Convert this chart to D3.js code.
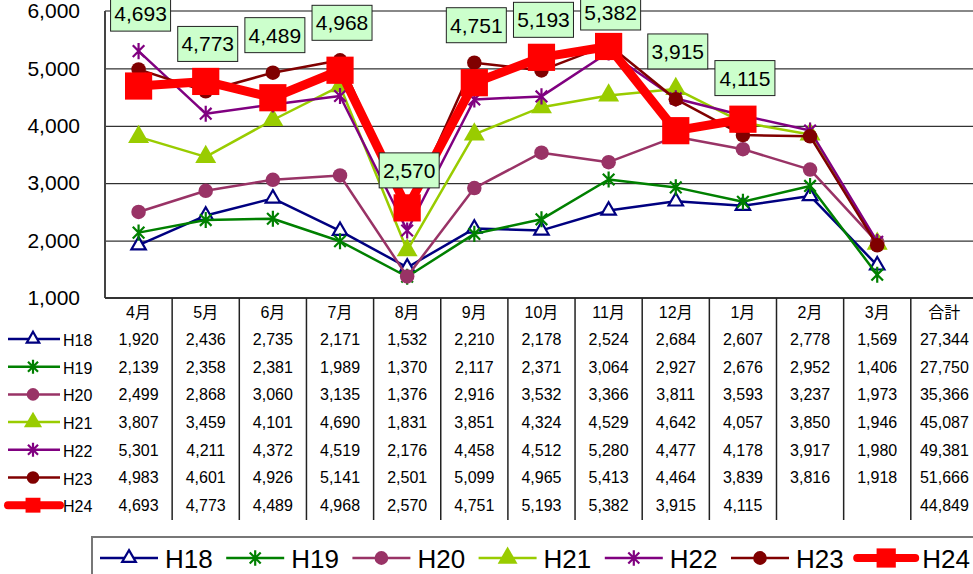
<!DOCTYPE html>
<html>
<head>
<meta charset="utf-8">
<script src="https://cdn.jsdelivr.net/npm/d3@7"></script>
<style>
body { margin: 0; background: #fff; }
text { font-family: "Liberation Sans", Arial, "Noto Sans CJK JP", sans-serif; fill: #000; }
</style>
</head>
<body>
<svg width="973" height="574"></svg>
<script>
// ### Data ###
var months = ['4月', '5月', '6月', '7月', '8月', '9月', '10月', '11月', '12月', '1月', '2月', '3月'];
var totalHead = '合計';
var names = ['H18', 'H19', 'H20', 'H21', 'H22', 'H23', 'H24'];
var h18 = [1920, 2436, 2735, 2171, 1532, 2210, 2178, 2524, 2684, 2607, 2778, 1569];
var h19 = [2139, 2358, 2381, 1989, 1370, 2117, 2371, 3064, 2927, 2676, 2952, 1406];
var h20 = [2499, 2868, 3060, 3135, 1376, 2916, 3532, 3366, 3811, 3593, 3237, 1973];
var h21 = [3807, 3459, 4101, 4690, 1831, 3851, 4324, 4529, 4642, 4057, 3850, 1946];
var h22 = [5301, 4211, 4372, 4519, 2176, 4458, 4512, 5280, 4477, 4178, 3917, 1980];
var h23 = [4983, 4601, 4926, 5141, 2501, 5099, 4965, 5413, 4464, 3839, 3816, 1918];
var h24 = [4693, 4773, 4489, 4968, 2570, 4751, 5193, 5382, 3915, 4115];
var totals = [27344, 27750, 35366, 45087, 49381, 51666, 44849];
var yTicks = [1000, 2000, 3000, 4000, 5000, 6000];

var series = [h18, h19, h20, h21, h22, h23, h24];

// ### Styles ###
var colors = ['#000080', '#008000', '#993366', '#99cc00', '#800080', '#800000', '#ff0000'];
var lineW = [2.5, 2.5, 2.5, 2.5, 2.5, 2.5, 9];

// excel style star marker: vertical bar + X
var star = {
	draw: function(c, s) {
		var r = Math.sqrt(s) / 2, d = r * 0.72;
		c.moveTo(0, -r); c.lineTo(0, r);
		c.moveTo(-d, -d); c.lineTo(d, d);
		c.moveTo(-d, d); c.lineTo(d, -d);
	}
};
// type, size, filled?
var markers = [
	{type: d3.symbolTriangle, size: 90, fill: false},
	{type: star, size: 260, fill: false},
	{type: d3.symbolCircle, size: 165, fill: true},
	{type: d3.symbolTriangle, size: 190, fill: true},
	{type: star, size: 260, fill: false},
	{type: d3.symbolCircle, size: 165, fill: true},
	{type: d3.symbolSquare, size: 740, fill: true}
];

var svg = d3.select('svg');
var fmt = d3.format(',');

// ### Scales ###
var plotL = 105, plotT = 11, plotB = 298, band = 67.15;
var x = d3.scaleBand()
	.domain(months.concat([totalHead]))
	.range([plotL, plotL + band * 13]);
var y = d3.scaleLinear()
	.domain([1000, 6000])
	.range([plotB, plotT]);
var cx = m => x(m) + x.bandwidth() / 2;

function drawMarker(g, i, px, py, k) {
	var mk = markers[i];
	g.append('path')
		.attr('transform', `translate(${px},${py})`)
		.attr('d', d3.symbol().type(mk.type).size(mk.size * k)())
		.attr('fill', mk.fill ? colors[i] : (mk.type === star ? 'none' : '#fff'))
		.attr('stroke', colors[i])
		.attr('stroke-width', mk.fill ? 0 : 2.2);
}

// ### Gridlines + frame ###
svg.append('g')
	.attr('transform', `translate(${plotL},0)`)
	.call(d3.axisLeft(y).tickValues([2000, 3000, 4000, 5000]).tickSize(-(973 - plotL)).tickFormat(''))
	.call(g => g.select('.domain').remove())
	.selectAll('line').attr('stroke', '#000').attr('stroke-width', 1);

svg.append('line').attr('x1', plotL).attr('x2', 973).attr('y1', plotT).attr('y2', plotT)
	.attr('stroke', '#888').attr('stroke-width', 2);
svg.append('line').attr('x1', plotL).attr('x2', plotL).attr('y1', plotT).attr('y2', plotB)
	.attr('stroke', '#444').attr('stroke-width', 2);
svg.append('line').attr('x1', plotL).attr('x2', 973).attr('y1', plotB).attr('y2', plotB)
	.attr('stroke', '#333').attr('stroke-width', 2);

// y axis labels
svg.append('g')
	.attr('transform', `translate(${plotL},0)`)
	.call(d3.axisLeft(y).tickValues(yTicks).tickSize(0).tickPadding(25).tickFormat(fmt))
	.call(g => g.select('.domain').remove())
	.selectAll('text')
	.style('font-size', '21px')
	.style('font-family', '"Liberation Sans", Arial, sans-serif')
	.attr('fill', '#000');

// ### Lines + markers ###
var line = d3.line()
	.x((d, i) => cx(months[i]))
	.y(d => y(d));

series.forEach(function(s, i) {
	var g = svg.append('g');
	g.append('path')
		.datum(s)
		.attr('d', line)
		.attr('fill', 'none')
		.attr('stroke', colors[i])
		.attr('stroke-width', lineW[i])
		.attr('stroke-linejoin', 'round');
	s.forEach(function(v, j) {
		drawMarker(g, i, cx(months[j]), y(v), 1);
	});
});

// ### H24 value labels ###
// placed above the highest point of the month, kept inside the picture
h24.forEach(function(v, j) {
	var hi = d3.max(series, s => s[j]);
	var b = Math.max(y(hi) - 20, 30);
	var g = svg.append('g').attr('transform', `translate(${cx(months[j]) + 2},${b})`);
	g.append('rect')
		.attr('x', -30).attr('y', -35).attr('width', 60).attr('height', 35)
		.attr('fill', '#ccffcc').attr('stroke', '#222').attr('stroke-width', 1);
	g.append('text')
		.attr('text-anchor', 'middle')
		.attr('y', -10)
		.style('font-size', '21px')
		.text(fmt(v));
});

// ### Data table ###
var rowY = d3.scalePoint().domain(names).range([339, 505.2]);
var tableBottom = 520;

x.domain().forEach(function(m, k) {
	svg.append('text')
		.attr('x', cx(m)).attr('y', 317.5)
		.attr('text-anchor', 'middle')
		.style('font-size', '16px')
		.text(m);
	if (k > 0) {
		svg.append('line')
			.attr('x1', x(m)).attr('x2', x(m))
			.attr('y1', plotB).attr('y2', tableBottom)
			.attr('stroke', '#222').attr('stroke-width', 1.5);
	}
});

series.forEach(function(s, i) {
	var ry = rowY(names[i]);
	s.forEach(function(v, j) {
		svg.append('text')
			.attr('x', cx(months[j])).attr('y', ry + 5.8)
			.attr('text-anchor', 'middle')
			.style('font-size', '16px')
			.text(fmt(v));
	});
	svg.append('text')
		.attr('x', cx(totalHead)).attr('y', ry + 5.8)
		.attr('text-anchor', 'middle')
		.style('font-size', '16px')
		.text(fmt(totals[i]));
	// legend key in the table
	var g = svg.append('g');
	g.append('line')
		.attr('x1', 8).attr('x2', 60).attr('y1', ry).attr('y2', ry)
		.attr('stroke', colors[i]).attr('stroke-width', i === 6 ? 8 : 2.5)
		.attr('stroke-linecap', i === 6 ? 'round' : 'butt');
	drawMarker(g, i, 33, ry, i === 6 ? 0.3 : 0.75);
	g.append('text')
		.attr('x', 63).attr('y', ry + 7)
		.style('font-size', '16px')
		.text(names[i]);
});

// ### Bottom legend ###
svg.append('rect')
	.attr('x', 92).attr('y', 537).attr('width', 900).attr('height', 60)
	.attr('fill', '#fff').attr('stroke', '#777').attr('stroke-width', 2);

var legX = d3.scaleLinear().domain([0, 6]).range([100, 100 + 6 * 126.2]);
names.forEach(function(n, i) {
	var x0 = legX(i), ly = 558;
	var g = svg.append('g');
	g.append('line')
		.attr('x1', x0).attr('x2', x0 + 58).attr('y1', ly).attr('y2', ly)
		.attr('stroke', colors[i]).attr('stroke-width', i === 6 ? 8 : 2.5)
		.attr('stroke-linecap', i === 6 ? 'round' : 'butt');
	drawMarker(g, i, x0 + 29, ly, i === 6 ? 0.5 : 0.9);
	g.append('text')
		.attr('x', x0 + 65).attr('y', ly + 9.5)
		.style('font-size', '26px')
		.text(n);
});
</script>
</body>
</html>
